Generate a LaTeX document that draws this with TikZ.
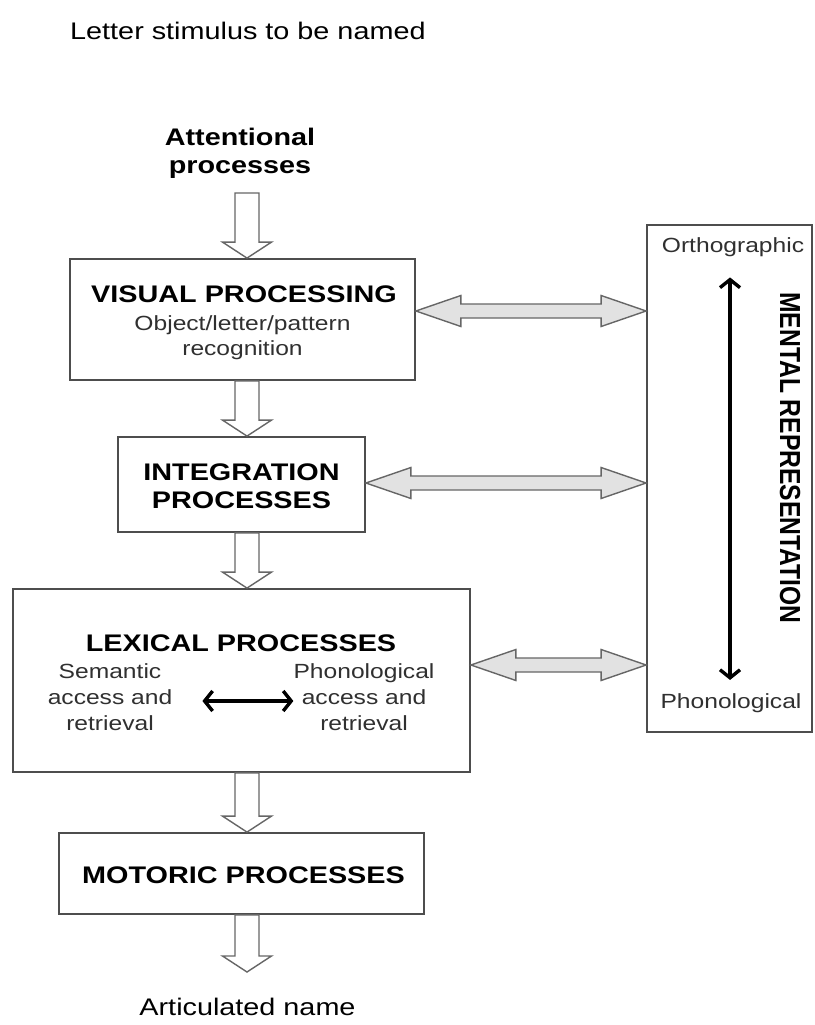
\documentclass[tikz,border=0pt]{standalone}
\usepackage{fontspec}
\setmainfont{Liberation Sans}[FakeStretch=1.2]
\newfontfamily\rotfont{Liberation Sans}[FakeStretch=0.85]
\usetikzlibrary{arrows.meta,calc}
\definecolor{boxline}{HTML}{4D4D4D}
\definecolor{arrline}{HTML}{666666}
\definecolor{arrfill}{HTML}{E2E2E2}
\definecolor{txtgray}{HTML}{303030}
\newcommand\blockdown[2]{%
  \draw[blockarrow] let \p1=(#1), \p2=(#2) in
   (\x1-12,\y1) -- (\x1+12,\y1) -- (\x1+12,\y2+16) -- (\x1+24.5,\y2+16) -- (\x1,\y2)
   -- (\x1-24.5,\y2+16) -- (\x1-12,\y2+16) -- cycle;}
\newcommand\grayboth[3]{%
  \draw[grayarrow] let \p1=(#1.east), \p2=(#2.west), \p3=(0,#3) in
   (\x1,\y3) -- (\x1+45,\y3+15.5) -- (\x1+45,\y3+7) -- (\x2-45,\y3+7) -- (\x2-45,\y3+15.5)
   -- (\x2,\y3) -- (\x2-45,\y3-15.5) -- (\x2-45,\y3-7) -- (\x1+45,\y3-7) -- (\x1+45,\y3-15.5) -- cycle;}
\begin{document}
\begin{tikzpicture}[x=1pt,y=-1pt,
  box/.style={draw=boxline, line width=1.8pt, inner sep=0pt},
  bold/.style={font=\fontsize{24}{29}\selectfont\bfseries, text=black, inner sep=0pt, anchor=base},
  plain/.style={font=\fontsize{20.5}{26}\selectfont, text=txtgray, inner sep=0pt},
  big/.style={font=\fontsize{24}{29}\selectfont, text=black, inner sep=0pt, anchor=base},
  blockarrow/.style={draw=arrline, fill=white, line width=1.4pt, line join=miter},
  grayarrow/.style={draw=arrline, fill=arrfill, line width=1.4pt, line join=miter},
  blackarrow/.style={draw=black, line width=3.4pt, {Straight Barb[length=8pt,width=20pt]}-{Straight Barb[length=8pt,width=20pt]}}
]
\useasboundingbox[fill=white] (0,0) rectangle (814,1025);
\coordinate (col) at (247,0);
\coordinate (a0) at (247,193);
\coordinate (a5) at (247,972);

% text at top
\node[big, anchor=base west] (stim) at (70,40) {Letter stimulus to be named};
\node[bold] (att1) at (240,145) {Attentional};
\node[bold] (att2) at (240,173) {processes};

% boxes
\node[box, minimum width=345pt, minimum height=121pt] (vis) at (242.5,319.5) {};
\node[box, minimum width=247pt, minimum height=95pt] (int) at (241.5,484.5) {};
\node[box, minimum width=457pt, minimum height=183pt] (lex) at (241.5,680.5) {};
\node[box, minimum width=365pt, minimum height=81pt] (mot) at (241.5,873.5) {};
\node[box, minimum width=165pt, minimum height=507pt] (men) at (729.5,478.5) {};

% visual
\node[bold] (vish) at (244,302) {VISUAL PROCESSING};
\node[plain, anchor=base] (vis1) at (242.5,330) {Object/letter/pattern};
\node[plain, anchor=base] (vis2) at (242.5,355) {recognition};

% integration
\node[bold] (int1) at (241.5,480.5) {INTEGRATION};
\node[bold] (int2) at (241.5,508.5) {PROCESSES};

% lexical
\node[bold] (lexh) at (241,651) {LEXICAL PROCESSES};
\node[plain, align=center] (sem) at (110,697) {Semantic\\access and\\retrieval};
\node[plain, align=center] (pho) at (364,697) {Phonological\\access and\\retrieval};
\draw[blackarrow] ([xshift=30pt,yshift=-4pt]sem.east) -- ([yshift=-4pt]pho.west);

% motoric
\node[bold] (moth) at (243.5,883.5) {MOTORIC PROCESSES};
\node[big] (out) at (247.5,1015) {Articulated name};

% mental representation
\node[plain, anchor=base] (orth) at (733,252) {Orthographic};
\node[plain, anchor=base] (phon) at (731,708) {Phonological};
\node[font=\rotfont\fontsize{29}{34}\selectfont\bfseries, rotate=-90, inner sep=0pt] (mentxt) at (790,458) {MENTAL REPRESENTATION};
\draw[blackarrow] ([xshift=-3pt,yshift=-21pt]orth.south) -- ([xshift=-1pt,yshift=13pt]phon.north);

% block arrows
\blockdown{a0}{vis.north -| col}
\blockdown{vis.south -| col}{int.north -| col}
\blockdown{int.south -| col}{lex.north -| col}
\blockdown{lex.south -| col}{mot.north -| col}
\blockdown{mot.south -| col}{a5}

% gray double arrows
\grayboth{vis}{men}{311}
\grayboth{int}{men}{483}
\grayboth{lex}{men}{665}
\end{tikzpicture}
\end{document}
